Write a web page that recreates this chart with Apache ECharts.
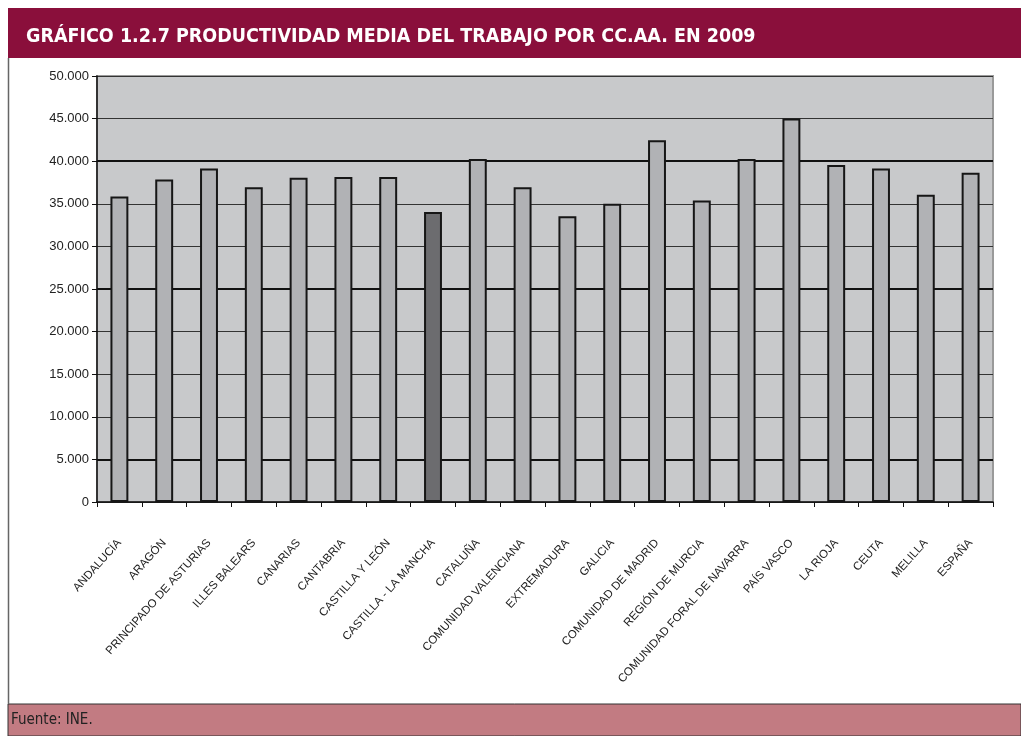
<!DOCTYPE html>
<html>
<head>
<meta charset="utf-8">
<script src="https://cdn.jsdelivr.net/npm/echarts@6/dist/echarts.min.js"></script>
<style>
  html, body { margin: 0; padding: 0; background: #fff; }
  #chart { width: 1021px; height: 736px; }
</style>
</head>
<body>
<div id="chart"></div>
<script>
const categories = [
  'ANDALUCÍA', 'ARAGÓN', 'PRINCIPADO DE ASTURIAS', 'ILLES BALEARS', 'CANARIAS',
  'CANTABRIA', 'CASTILLA Y LEÓN', 'CASTILLA - LA MANCHA', 'CATALUÑA', 'COMUNIDAD VALENCIANA',
  'EXTREMADURA', 'GALICIA', 'COMUNIDAD DE MADRID', 'REGIÓN DE MURCIA', 'COMUNIDAD FORAL DE NAVARRA',
  'PAÍS VASCO', 'LA RIOJA', 'CEUTA', 'MELILLA', 'ESPAÑA'
]
const productividad = [
  35850, 37850, 39150, 36950, 38050,
  38150, 38150, 34050, 40250, 36950,
  33550, 35000, 42450, 35400, 40250,
  45000, 39550, 39150, 36050, 38650
]
const highlighted = 'CASTILLA - LA MANCHA'
// gridlines that print heavier in the original scan
const heavyLines = [40000, 25000, 5000]

const chart = echarts.init(document.getElementById('chart'))

function miles(v) {
  return String(v).replace(/\B(?=(\d{3})+(?!\d))/g, '.')
}

chart.setOption({
  backgroundColor: '#fff',
  animation: false,
  graphic: [
    { type: 'rect', shape: { x: 8, y: 8, width: 1013, height: 50 }, style: { fill: '#8A0F3B' }, z: 0 },
    { type: 'rect', shape: { x: 8, y: 704, width: 1013, height: 32 }, style: { fill: '#C27B82', stroke: '#333', lineWidth: 1 }, z: 0 },
    { type: 'line', shape: { x1: 8.5, y1: 58, x2: 8.5, y2: 704 }, style: { stroke: '#666', lineWidth: 1.5 }, z: 0 },
    {
      type: 'text', left: 11, top: 713, z: 1,
      style: { text: 'Fuente: INE.', fill: '#222', font: '15px "DejaVu Sans Condensed", "Liberation Sans Narrow", sans-serif' }
    }
  ],
  title: {
    text: 'GRÁFICO 1.2.7 PRODUCTIVIDAD MEDIA DEL TRABAJO POR CC.AA. EN 2009',
    left: 21,
    top: 22,
    textStyle: {
      color: '#fff',
      fontSize: 19.5,
      fontWeight: 'bold',
      fontFamily: '"DejaVu Sans Condensed", "Liberation Sans Narrow", sans-serif'
    }
  },
  grid: {
    left: 97,
    right: 28,
    top: 76,
    bottom: 234,
    show: true,
    backgroundColor: '#C8C9CB',
    borderColor: '#9a9a9a',
    borderWidth: 2
  },
  xAxis: {
    type: 'category',
    data: categories,
    axisLine: { lineStyle: { color: '#111', width: 1.5 } },
    axisTick: { show: true, length: 5, lineStyle: { color: '#111' } },
    axisLabel: {
      interval: 0,
      rotate: 48,
      margin: 39,
      fontSize: 11.5,
      color: '#222',
      fontFamily: '"Liberation Sans", Arial, sans-serif'
    }
  },
  yAxis: {
    type: 'value',
    min: 0,
    max: 50000,
    interval: 5000,
    axisLine: { show: true, lineStyle: { color: '#111', width: 1.5 } },
    axisTick: { show: true, length: 5, lineStyle: { color: '#111' } },
    axisLabel: {
      margin: 8,
      fontSize: 13,
      color: '#222',
      fontFamily: '"Liberation Sans", Arial, sans-serif',
      formatter: miles
    },
    splitLine: { lineStyle: { color: '#333', width: 1 } }
  },
  series: [{
    type: 'bar',
    data: productividad,
    barWidth: '40%',
    z: 3,
    itemStyle: {
      color: function (p) {
        return categories[p.dataIndex] === highlighted ? '#6C6C6F' : '#B1B2B5'
      },
      borderColor: '#161616',
      borderWidth: 2
    },
    markLine: {
      silent: true,
      symbol: 'none',
      z: 1,
      label: { show: false },
      lineStyle: { color: '#111', width: 2, type: 'solid' },
      data: heavyLines.map(function (v) { return { yAxis: v } })
    }
  }]
})
</script>
</body>
</html>
